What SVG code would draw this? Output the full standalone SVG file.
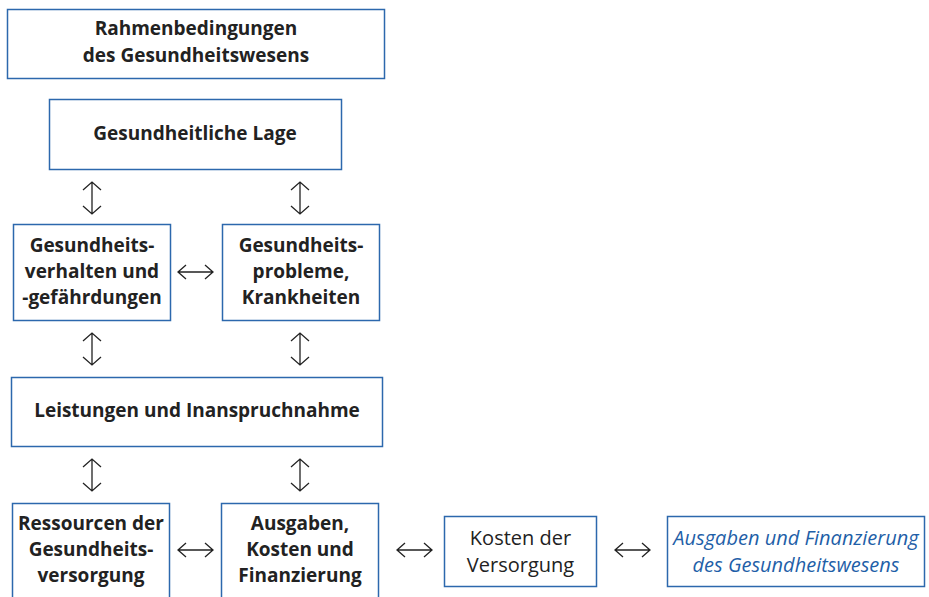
<svg xmlns="http://www.w3.org/2000/svg" width="929" height="597" viewBox="0 0 929 597">
<style>
.box{fill:#fff;stroke:#2c68ad;stroke-width:1.5}
.t{font-family:"Open Sans","Liberation Sans",sans-serif;font-size:20px;fill:#222;text-anchor:middle}
.b{font-weight:bold;font-size:19px}
.i{font-style:italic;fill:#1f5fa8}
.a{fill:none;stroke:#222;stroke-width:1.3}
</style>
<rect width="929" height="597" fill="#fff"/>
<g id="n1"><rect class="box" x="7.5" y="9.5" width="377" height="69"/>
<text class="t b" x="196" y="35">Rahmenbedingungen</text><text class="t b" x="196" y="62">des Gesundheitswesens</text></g>
<g id="n2"><rect class="box" x="49.5" y="99.5" width="292" height="70"/>
<text class="t b" x="195" y="140">Gesundheitliche Lage</text></g>
<g id="n3"><rect class="box" x="13.5" y="224.5" width="157" height="96"/>
<text class="t b" x="92" y="252">Gesundheits-</text><text class="t b" x="92" y="278">verhalten und</text><text class="t b" x="92" y="304">-gefährdungen</text></g>
<g id="n4"><rect class="box" x="222.5" y="224.5" width="157" height="96"/>
<text class="t b" x="301" y="252">Gesundheits-</text><text class="t b" x="301" y="278">probleme,</text><text class="t b" x="301" y="304">Krankheiten</text></g>
<g id="n5"><rect class="box" x="11.5" y="377.5" width="371" height="69"/>
<text class="t b" x="197" y="417">Leistungen und Inanspruchnahme</text></g>
<g id="n6"><rect class="box" x="12.5" y="503.5" width="157" height="110"/>
<text class="t b" x="91" y="530">Ressourcen der</text><text class="t b" x="91" y="556">Gesundheits-</text><text class="t b" x="91" y="582">versorgung</text></g>
<g id="n7"><rect class="box" x="221.5" y="503.5" width="157" height="110"/>
<text class="t b" x="300" y="530">Ausgaben,</text><text class="t b" x="300" y="556">Kosten und</text><text class="t b" x="300" y="582">Finanzierung</text></g>
<g id="n8"><rect class="box" x="444.5" y="516.5" width="152" height="70"/>
<text class="t" x="520.5" y="545">Kosten der</text><text class="t" x="520.5" y="572">Versorgung</text></g>
<g id="n9"><rect class="box" x="667.5" y="516.5" width="257" height="70"/>
<text class="t i" x="796" y="545">Ausgaben und Finanzierung</text><text class="t i" x="796" y="572">des Gesundheitswesens</text></g>
<g id="connectors">
<path class="a" d="M92 182V214M83 190L92 182L101 190M83 206L92 214L101 206"/>
<path class="a" d="M300 182V214M291 190L300 182L309 190M291 206L300 214L309 206"/>
<path class="a" d="M92 333V365M83 341L92 333L101 341M83 357L92 365L101 357"/>
<path class="a" d="M300 333V365M291 341L300 333L309 341M291 357L300 365L309 357"/>
<path class="a" d="M92 459V491M83 467L92 459L101 467M83 483L92 491L101 483"/>
<path class="a" d="M300 459V491M291 467L300 459L309 467M291 483L300 491L309 483"/>
<path class="a" d="M178 272H213M186 265L178 272L186 279M205 265L213 272L205 279"/>
<path class="a" d="M178 550H213M186 543L178 550L186 557M205 543L213 550L205 557"/>
<path class="a" d="M397 550H432M405 543L397 550L405 557M424 543L432 550L424 557"/>
<path class="a" d="M615 550H650M623 543L615 550L623 557M642 543L650 550L642 557"/>
</g>
</svg>
